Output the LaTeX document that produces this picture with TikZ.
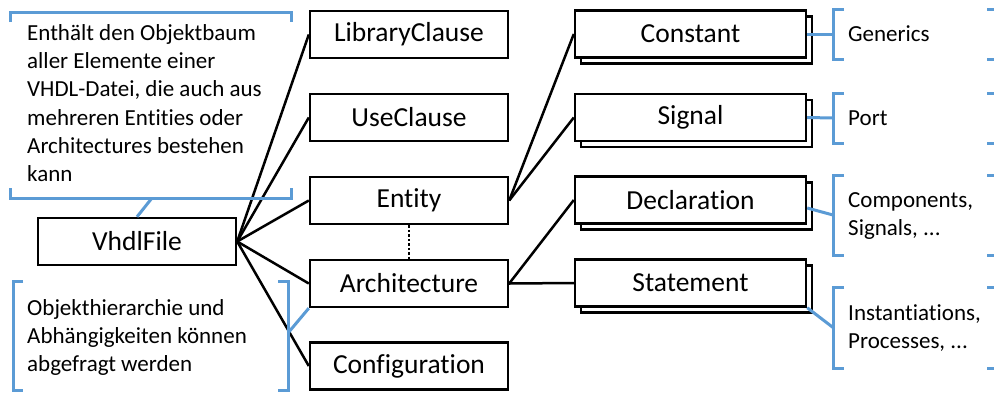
\documentclass[tikz,border=0pt]{standalone}
\usepackage{fontspec}
\setmainfont{Carlito}[Ligatures={NoCommon}]
\usetikzlibrary{shadows}
\definecolor{noteblue}{HTML}{5B9BD5}

\begin{document}
\begin{tikzpicture}[x=1pt, y=-1pt,
        box/.style={draw, line width=2.4pt, fill=white, minimum width=198pt, minimum height=47pt, inner sep=0pt, font=\fontsize{27.5}{33}\selectfont},
        stackbox/.style={box, minimum width=231pt, copy shadow={shadow xshift=6pt, shadow yshift=-6pt}},
        link/.style={line width=2.5pt},
        bracket/.style={draw=noteblue, line width=3pt},
        note/.style={align=left, inner sep=0pt, font=\fontsize{23}{28.3}\selectfont}]
        \useasboundingbox (0, 0) rectangle (994, 392);

        % file level and its direct children
        \node[box] (vhdl) at (137, 241.5) {VhdlFile};
        \node[box] (library) at (409, 34.5) {LibraryClause};
        \node[box] (use) at (409, 117.5) {UseClause};
        \node[box] (entity) at (409, 200.5) {Entity};
        \node[box] (arch) at (409, 283.5) {Architecture};
        \node[box] (config) at (409, 366) {Configuration};

        % lists below entity and architecture
        \node[stackbox] (constant) at (690.5, 34) {Constant};
        \node[stackbox] (signal) at (690.5, 117.5) {Signal};
        \node[stackbox] (decl) at (690.5, 200) {Declaration};
        \node[stackbox] (statement) at (690.5, 283) {Statement};

        \foreach \n in {library, use, entity, arch, config}
                \draw[link] (vhdl.east) -- (\n.west);
        \draw[link] (entity.east) -- (constant.west);
        \draw[link] (entity.east) -- (signal.west);
        \draw[link] (arch.east) -- (decl.west);
        \draw[link] (arch.east) -- (statement.west);
        \draw[link, dotted] (entity.south) -- (arch.north);

        % comment about the object tree
        \draw[bracket] (10, 22) -- (10, 12) -- (291, 12) -- (291, 22);
        \draw[bracket] (10, 188) -- (10, 198) -- (291, 198) -- (291, 188);
        \node[note, anchor=north west] (treetext) at (27, 24) {Enthält den Objektbaum\\aller Elemente einer\\VHDL-Datei, die auch aus\\mehreren Entities oder\\Architectures bestehen\\kann};
        \coordinate (treenote) at (152, 198);
        \draw[bracket] (treenote) -- (vhdl.north);

        % comment about queries
        \draw[bracket] (23, 281) -- (13, 281) -- (13, 390) -- (23, 390);
        \draw[bracket] (278, 281) -- (288, 281) -- (288, 390) -- (278, 390);
        \node[note, anchor=north west] (querytext) at (27, 299) {Objekthierarchie und\\Abhängigkeiten können\\abgefragt werden};
        \coordinate (querynote) at (288, 333);
        \draw[bracket] (querynote) -- (arch.south west);

        % brackets on the right
        \foreach \ya/\yb in {9/59, 93/143, 175/255, 287/368} {
                \draw[bracket] (844, \ya) -- (833, \ya) -- (833, \yb) -- (844, \yb);
                \draw[bracket] (987, \ya) -- (998, \ya) -- (998, \yb) -- (987, \yb);
        }
        \node[note, anchor=west] (generics) at (848, 34) {Generics};
        \node[note, anchor=west] (port) at (848, 118) {Port};
        \node[note, anchor=west] (components) at (848, 216) {Components,\\Signals, ...};
        \node[note, anchor=west] (processes) at (848, 328) {Instantiations,\\Processes, ...};

        \coordinate (genericsbr) at (833, 34);
        \coordinate (portbr) at (833, 118);
        \coordinate (componentsbr) at (833, 215);
        \coordinate (processesbr) at (833, 327.5);
        \draw[bracket] (constant.east) -- (genericsbr);
        \draw[bracket] (signal.east) -- (portbr);
        \draw[bracket] ([yshift=-8pt]decl.east) -- (componentsbr);
        \draw[bracket] (statement.south east) -- (processesbr);
\end{tikzpicture}
\end{document}
